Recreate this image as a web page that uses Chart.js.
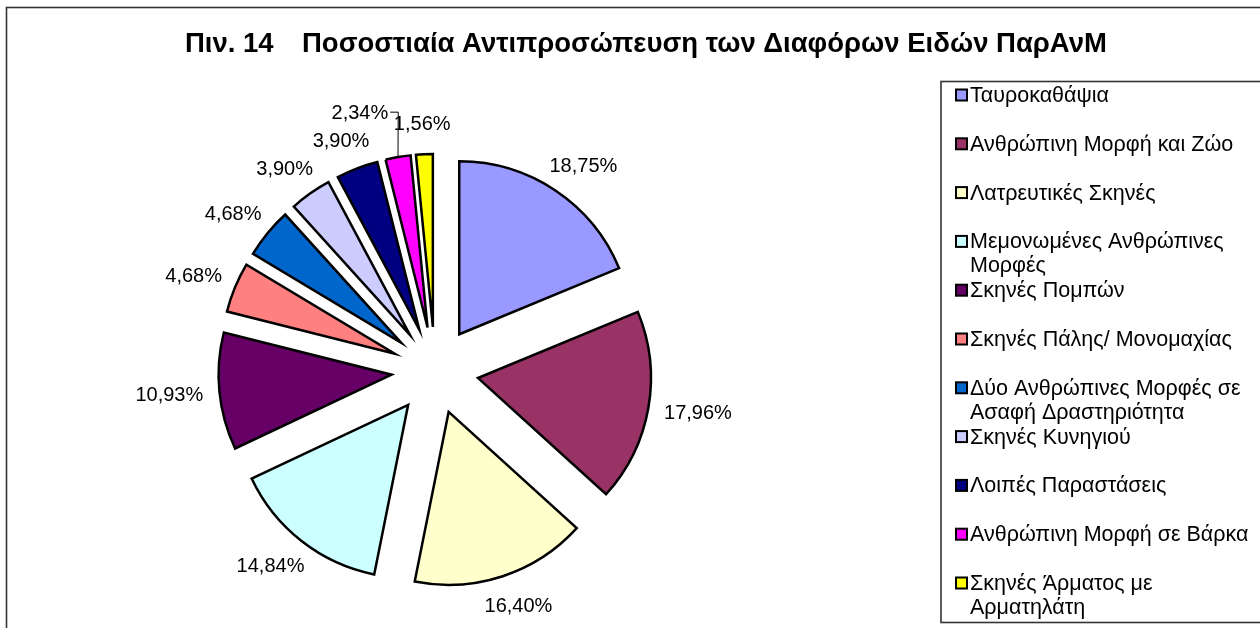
<!DOCTYPE html>
<html>
<head>
<meta charset="utf-8">
<title>Πιν. 14</title>
<script src="https://cdn.jsdelivr.net/npm/chart.js@4.4.1/dist/chart.umd.min.js"></script>
<style>
  html, body { margin: 0; padding: 0; background: #fff; }
  #wrap { position: relative; width: 1260px; height: 628px; }
</style>
</head>
<body>
<div id="wrap"><canvas id="pie" width="1260" height="628"></canvas></div>
<script>
/**
 * Data (percent of each ΠαρΑνΜ category)
 */
var categories = [
    'Ταυροκαθάψια',
    'Ανθρώπινη Μορφή και Ζώο',
    'Λατρευτικές Σκηνές',
    ['Μεμονωμένες Ανθρώπινες', 'Μορφές'],
    'Σκηνές Πομπών',
    'Σκηνές Πάλης/ Μονομαχίας',
    ['Δύο Ανθρώπινες Μορφές σε', 'Ασαφή Δραστηριότητα'],
    'Σκηνές Κυνηγιού',
    'Λοιπές Παραστάσεις',
    'Ανθρώπινη Μορφή σε Βάρκα',
    ['Σκηνές Άρματος με', 'Αρματηλάτη']
];
var percentages = [18.75, 17.96, 16.40, 14.84, 10.93, 4.68, 4.68, 3.90, 3.90, 2.34, 1.56];
var sliceColors = ['#9999FF', '#993366', '#FFFFCC', '#CCFFFF', '#660066', '#FF8080',
                   '#0066CC', '#CCCCFF', '#000080', '#FF00FF', '#FFFF00'];
var titleParts = ['Πιν. 14', 'Ποσοστιαία Αντιπροσώπευση των Διαφόρων Ειδών ΠαρΑνΜ'];

var FONT = '"Liberation Sans", Arial, sans-serif';
var EXPLODE = 43.6;     // distance every slice is pulled out
var LABEL_R = 233;      // where the value labels start

/**
 * Pull each slice out along its bisector (same distance for all)
 */
var explodePlugin = {
    id: 'explode',
    afterDatasetUpdate: function(chart, args) {
        args.meta.data.forEach(function(arc) {
            var mid = (arc.startAngle + arc.endAngle) / 2;
            arc.x += Math.cos(mid) * EXPLODE;
            arc.y += Math.sin(mid) * EXPLODE;
        });
    }
};

/**
 * Value labels outside the slices, pushed away with a leader line when crowded
 */
var labelPlugin = {
    id: 'sliceLabels',
    afterDatasetsDraw: function(chart) {
        var ctx = chart.ctx;
        var arcs = chart.getDatasetMeta(0).data;
        var area = chart.chartArea;
        var cx = (area.left + area.right) / 2;
        var cy = (area.top + area.bottom) / 2;
        var placed = [];

        ctx.save();
        ctx.font = '20px ' + FONT;
        ctx.textAlign = 'center';
        ctx.textBaseline = 'middle';
        ctx.fillStyle = '#000';
        ctx.strokeStyle = '#000';
        ctx.lineWidth = 1;

        for (var i = arcs.length - 1; i >= 0; i--) {
            var arc = arcs[i];
            var text = percentages[i].toFixed(2).replace('.', ',') + '%';
            var hw = ctx.measureText(text).width / 2;
            var hh = 9;
            var a = (arc.startAngle + arc.endAngle) / 2;
            var turn = Math.cos(a) < 0 ? -1 : 1;
            var step = 0, lx, ly, box;

            while (true) {
                var ang = a + turn * step * 0.8 * Math.PI / 180;
                var r = LABEL_R + step * 3;
                lx = cx + Math.cos(ang) * (r + hw);
                ly = cy + Math.sin(ang) * (r + 14);
                box = { l: lx - hw - 2, r: lx + hw + 2, t: ly - hh - 1, b: ly + hh + 1 };
                var hit = placed.some(function(p) {
                    return box.l < p.r && box.r > p.l && box.t < p.b && box.b > p.t;
                });
                if (!hit || step > 80) break;
                step++;
            }
            placed.push(box);
            ctx.fillText(text, lx, ly + 1);

            if (step > 0) {
                var px = arc.x + Math.cos(a) * arc.outerRadius;
                var py = arc.y + Math.sin(a) * arc.outerRadius;
                ctx.beginPath();
                if (px > box.r) {
                    ctx.moveTo(box.r, ly);
                    ctx.lineTo(box.r + 8, ly);
                } else if (px < box.l) {
                    ctx.moveTo(box.l, ly);
                    ctx.lineTo(box.l - 8, ly);
                } else {
                    ctx.moveTo(lx, py > ly ? box.b : box.t);
                }
                ctx.lineTo(px, py);
                ctx.stroke();
            }
        }
        ctx.restore();
    }
};

/**
 * Frame, title and the boxed legend on the right
 */
var framePlugin = {
    id: 'frame',
    afterDraw: function(chart) {
        var ctx = chart.ctx;
        ctx.save();

        ctx.lineWidth = 1.6;
        ctx.strokeStyle = '#333';
        ctx.strokeRect(6.5, 7.5, 1400, 1000);   // right/bottom edges fall off the page
        ctx.strokeRect(941, 81.5, 400, 541);

        ctx.fillStyle = '#000';
        ctx.font = 'bold 27.5px ' + FONT;
        ctx.textBaseline = 'alphabetic';
        ctx.textAlign = 'left';
        ctx.fillText(titleParts[0], 185, 52);
        ctx.fillText(titleParts[1], 302, 52);

        ctx.font = '21.5px ' + FONT;
        ctx.textBaseline = 'middle';
        categories.forEach(function(label, i) {
            var y = 95 + 48.8 * i;
            ctx.fillStyle = sliceColors[i];
            ctx.fillRect(956, y - 5.5, 11, 11);
            ctx.lineWidth = 2;
            ctx.strokeStyle = '#000';
            ctx.strokeRect(956, y - 5.5, 11, 11);
            ctx.fillStyle = '#000';
            var lines = Array.isArray(label) ? label : [label];
            lines.forEach(function(line, j) {
                ctx.fillText(line, 970, y + 1 + j * 24);
            });
        });

        ctx.restore();
    }
};

new Chart(document.getElementById('pie'), {
    type: 'pie',
    data: {
        labels: categories,
        datasets: [{
            data: percentages,
            backgroundColor: sliceColors,
            borderColor: '#000',
            borderWidth: 2.5,
            borderJoinStyle: 'miter',
            radius: 173
        }]
    },
    options: {
        responsive: false,
        animation: false,
        layout: {
            padding: { left: 20, right: 410, top: 119, bottom: 6 }
        },
        plugins: {
            legend: { display: false },
            title: { display: false },
            tooltip: { enabled: false }
        }
    },
    plugins: [explodePlugin, labelPlugin, framePlugin]
});
</script>
</body>
</html>
